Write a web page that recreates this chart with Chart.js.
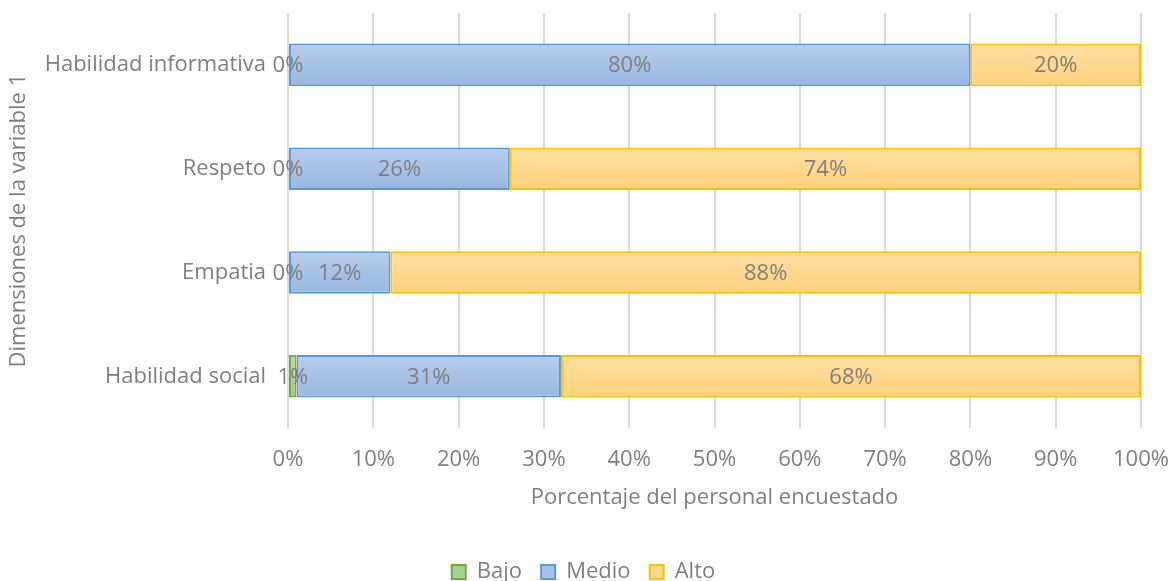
<!DOCTYPE html>
<html>
<head>
<meta charset="utf-8">
<script src="https://cdn.jsdelivr.net/npm/chart.js@4"></script>
<style>
  html, body { margin: 0; padding: 0; background: #fff; }
  #wrap { width: 1171px; height: 581px; }
</style>
</head>
<body>
<div id="wrap"><canvas id="chart"></canvas></div>
<script>
const dimensiones = ['Habilidad informativa', 'Respeto', 'Empatia', 'Habilidad social'];
const bajo = [0, 0, 0, 1];
const medio = [80, 26, 12, 31];
const alto = [20, 74, 88, 68];
const leyenda = ['Bajo', 'Medio', 'Alto'];

const gris = '#7f7f7f';
const fuente = 'Open Sans';
const tam = 22;
const grosor = 0.41;

// colores: [arriba, abajo, medio, borde]
const verde = ['#b9dba2', '#9cca7e', '#a9d18e', '#70ad47'];
const azul = ['#b8cdeb', '#97b7e2', '#a6c2e7', '#5b9bd5'];
const naranja = ['#ffdfa0', '#ffd27e', '#ffd98c', '#ffc000'];

// degradado vertical dentro de cada barra, como en Excel
function degradado(c, col) {
    const chart = c.chart;
    const area = chart.chartArea;
    const y = chart.scales.y;
    if (!area || !y) return col[2];
    const g = chart.ctx.createLinearGradient(0, area.top, 0, area.bottom);
    const h = area.bottom - area.top;
    const mitad = (y.getPixelForValue(1) - y.getPixelForValue(0)) * grosor / 2;
    dimensiones.forEach((d, i) => {
        const cy = y.getPixelForValue(i);
        const a = Math.min(1, Math.max(0, (cy - mitad - area.top) / h));
        const b = Math.min(1, Math.max(0, (cy + mitad - area.top) / h));
        g.addColorStop(a, col[0]);
        g.addColorStop(b, col[1]);
    });
    return g;
}

// etiquetas de porcentaje dentro de cada barra
const etiquetas = {
    id: 'etiquetas',
    afterDatasetsDraw(chart) {
        const ctx = chart.ctx;
        ctx.save();
        ctx.font = tam + 'px ' + fuente;
        ctx.fillStyle = gris;
        ctx.textAlign = 'center';
        ctx.textBaseline = 'middle';
        chart.data.datasets.forEach((ds, i) => {
            const meta = chart.getDatasetMeta(i);
            meta.data.forEach((bar, j) => {
                const p = bar.getCenterPoint();
                ctx.fillText(ds.data[j] + '%', p.x, p.y + 1);
            });
        });
        ctx.restore();
    }
};

function serie(label, data, col) {
    return {
        label: label,
        data: data,
        backgroundColor: c => degradado(c, col),
        borderColor: col[3],
        borderWidth: c => (c.raw === 0 ? 0 : 2),
        borderSkipped: false,
        barPercentage: grosor,
        categoryPercentage: 1,
        colores: col
    };
}

const ctx = document.getElementById('chart');
new Chart(ctx, {
    type: 'bar',
    data: {
        labels: dimensiones,
        datasets: [
            serie(leyenda[0], bajo, verde),
            serie(leyenda[1], medio, azul),
            serie(leyenda[2], alto, naranja)
        ]
    },
    options: {
        indexAxis: 'y',
        responsive: true,
        maintainAspectRatio: false,
        animation: false,
        layout: { padding: { top: 13, right: 4, left: 0, bottom: -12 } },
        scales: {
            x: {
                stacked: true,
                min: 0,
                max: 100,
                afterFit: s => { s.paddingRight = 30; },
                ticks: {
                    stepSize: 10,
                    color: gris,
                    font: { family: fuente, size: tam },
                    padding: 18,
                    callback: v => v + '%'
                },
                grid: { color: '#d9d9d9', lineWidth: 2, drawTicks: false },
                border: { display: false },
                title: {
                    display: true,
                    text: 'Porcentaje del personal encuestado',
                    color: gris,
                    font: { family: fuente, size: tam },
                    padding: { top: -6, bottom: 48 }
                }
            },
            y: {
                stacked: true,
                afterFit: s => { s.width = 288; s.paddingTop = 0; s.paddingBottom = 0; },
                ticks: {
                    color: gris,
                    font: { family: fuente, size: tam },
                    padding: 22
                },
                grid: { display: false, drawTicks: false },
                border: { display: false },
                title: {
                    display: true,
                    text: 'Dimensiones de la variable 1',
                    color: gris,
                    font: { family: fuente, size: tam },
                    padding: { top: 6, bottom: 6 }
                }
            }
        },
        plugins: {
            legend: {
                position: 'bottom',
                labels: {
                    color: gris,
                    font: { family: fuente, size: tam },
                    boxWidth: 14,
                    boxHeight: 14,
                    padding: 2,
                    generateLabels: chart => chart.data.datasets.map((ds, i) => ({
                        text: i < 2 ? ds.label + '   ' : ds.label,
                        fillStyle: ds.colores[2],
                        strokeStyle: ds.colores[3],
                        lineWidth: 2,
                        fontColor: gris,
                        hidden: false,
                        datasetIndex: i
                    }))
                }
            },
            tooltip: { enabled: false }
        }
    },
    plugins: [etiquetas]
});
</script>
</body>
</html>
